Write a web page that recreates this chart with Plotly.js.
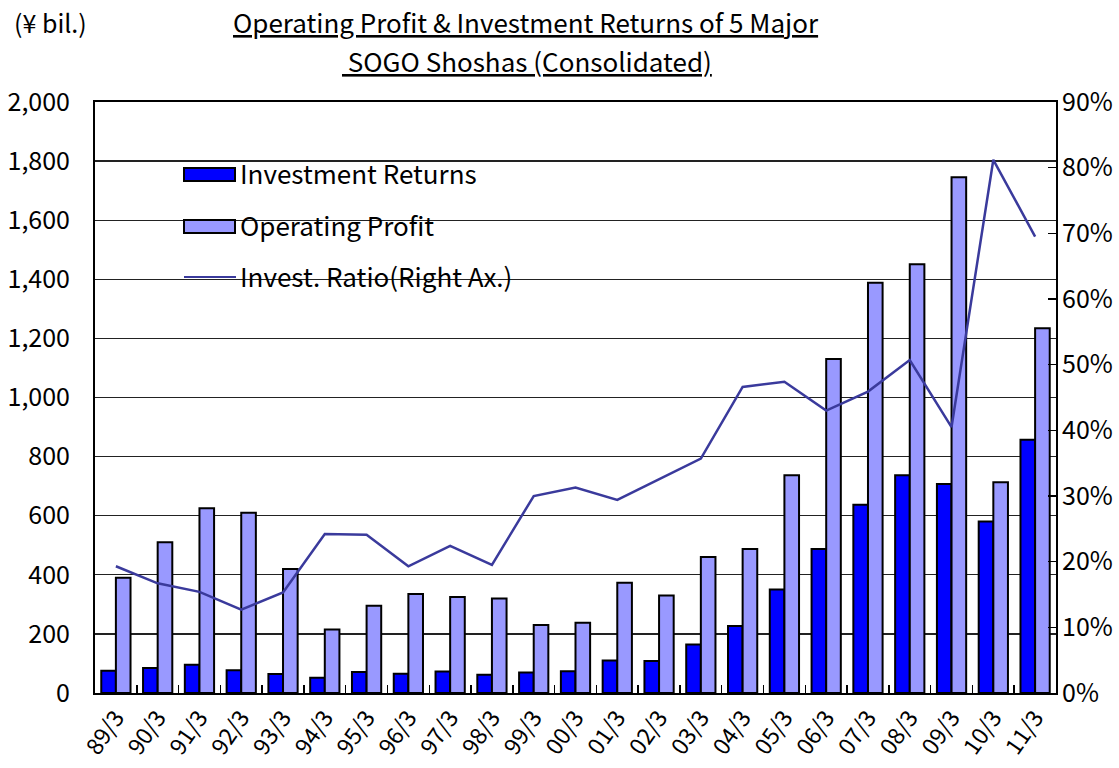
<!DOCTYPE html>
<html>
<head>
<meta charset="utf-8">
<script src="https://cdn.plot.ly/plotly-3.0.1.min.js"></script>
<style>html,body{margin:0;padding:0;background:#fff;}#chart{width:1119px;height:768px;}</style>
</head>
<body>
<div id="chart"></div>
<script>
const categories = ['89/3','90/3','91/3','92/3','93/3','94/3','95/3','96/3','97/3','98/3','99/3','00/3','01/3','02/3','03/3','04/3','05/3','06/3','07/3','08/3','09/3','10/3','11/3'];
const investmentReturns = [75,85,96,77,64,52,71,65,73,62,69,74,110,108,164,227,350,487,637,737,707,580,857];
const operatingProfit = [390,510,625,610,420,215,295,335,325,320,230,238,373,330,460,487,737,1130,1388,1451,1745,713,1234];
const investRatio = [19.3,16.7,15.4,12.7,15.3,24.2,24.1,19.3,22.4,19.5,30.0,31.3,29.4,32.6,35.7,46.6,47.4,43.0,45.9,50.7,40.5,81.2,69.5];
const seriesNames = ['Investment Returns','Operating Profit','Invest. Ratio(Right Ax.)'];
const titleLines = ['Operating Profit & Investment Returns of 5 Major', ' SOGO Shoshas (Consolidated)'];
const unitLabel = '(¥ bil.)';
const leftTicks = [0,200,400,600,800,1000,1200,1400,1600,1800,2000];
const rightTicks = [0,10,20,30,40,50,60,70,80,90];

const FONT = '"Noto Sans CJK JP", "Noto Sans", sans-serif';
const C_DARK = '#0000ff', C_LIGHT = '#9999ff', C_LINE = '#3a3a9c';

const traces = [
  {type:'bar', name:seriesNames[0], x:categories, y:investmentReturns,
   marker:{color:C_DARK, line:{color:'#000', width:2}}, showlegend:false},
  {type:'bar', name:seriesNames[1], x:categories, y:operatingProfit,
   marker:{color:C_LIGHT, line:{color:'#000', width:2}}, showlegend:false},
  {type:'scatter', mode:'lines', name:seriesNames[2], x:categories, y:investRatio, yaxis:'y2',
   line:{color:C_LINE, width:2.5}, showlegend:false}
];

// legend geometry in paper coordinates (plot area: x 95..1056, y 102..693)
const px = v => (v - 95) / 961;
const py = v => (693 - v) / 591;

const layout = {
  width:1119, height:768,
  margin:{l:95, r:63, t:102, b:75},
  paper_bgcolor:'#fff', plot_bgcolor:'#fff',
  font:{family:FONT, size:22, color:'#000'},
  barmode:'group', bargap:0.3, bargroupgap:0,
  xaxis:{type:'category', tickangle:-55, ticks:'inside', ticklen:8, tickwidth:1.5, tickcolor:'#000',
         tickson:'boundaries', showline:true, linecolor:'#000', linewidth:2, mirror:true,
         showgrid:false, tickfont:{family:FONT, size:23}},
  yaxis:{range:[0,2000], tickvals:leftTicks, ticktext:leftTicks.map(v=>v.toLocaleString('en-US')),
         showgrid:true, gridcolor:'#222', gridwidth:1.3, showline:true, linecolor:'#000', linewidth:2,
         mirror:true, ticks:'', ticklabelstandoff:18, zeroline:false, tickfont:{family:FONT, size:25}},
  yaxis2:{range:[0,90], overlaying:'y', side:'right', tickvals:rightTicks, ticktext:rightTicks.map(v=>v+'%'),
          ticks:'inside', ticklen:8, tickwidth:1.5, tickcolor:'#000', showgrid:false, showline:false,
          zeroline:false, ticklabelstandoff:5, tickfont:{family:FONT, size:25}},
  shapes:[
    {type:'rect', xref:'paper', yref:'paper', x0:px(165), x1:px(535), y0:py(300), y1:py(150),
     fillcolor:'#fff', line:{width:0}, layer:'below'},
    {type:'rect', xref:'paper', yref:'paper', x0:px(184), x1:px(235), y0:py(181), y1:py(168),
     fillcolor:C_DARK, line:{color:'#000', width:2}},
    {type:'rect', xref:'paper', yref:'paper', x0:px(184), x1:px(235), y0:py(233), y1:py(220),
     fillcolor:C_LIGHT, line:{color:'#000', width:2}},
    {type:'line', xref:'paper', yref:'paper', x0:px(184), x1:px(236), y0:py(277), y1:py(277),
     line:{color:C_LINE, width:1.8}}
  ],
  annotations:[
    {text:'<u>'+titleLines[0]+'</u>', xref:'paper', yref:'paper', x:px(526), y:py(22), xanchor:'center', yanchor:'middle',
     showarrow:false, font:{family:FONT, size:26}},
    {text:'<u>'+titleLines[1]+'</u>', xref:'paper', yref:'paper', x:px(527), y:py(60), xanchor:'center', yanchor:'middle',
     showarrow:false, font:{family:FONT, size:26}},
    {text:unitLabel, xref:'paper', yref:'paper', x:px(12), y:py(22), xanchor:'left', yanchor:'middle',
     showarrow:false, font:{family:FONT, size:25}},
    {text:seriesNames[0], xref:'paper', yref:'paper', x:px(238), y:py(172), xanchor:'left', yanchor:'middle', showarrow:false, font:{family:FONT, size:26}},
    {text:seriesNames[1], xref:'paper', yref:'paper', x:px(238), y:py(224), xanchor:'left', yanchor:'middle', showarrow:false, font:{family:FONT, size:26}},
    {text:seriesNames[2], xref:'paper', yref:'paper', x:px(238), y:py(275), xanchor:'left', yanchor:'middle', showarrow:false, font:{family:FONT, size:26}}
  ]
};

Plotly.newPlot('chart', traces, layout, {displayModeBar:false, staticPlot:true});
</script>
</body>
</html>
